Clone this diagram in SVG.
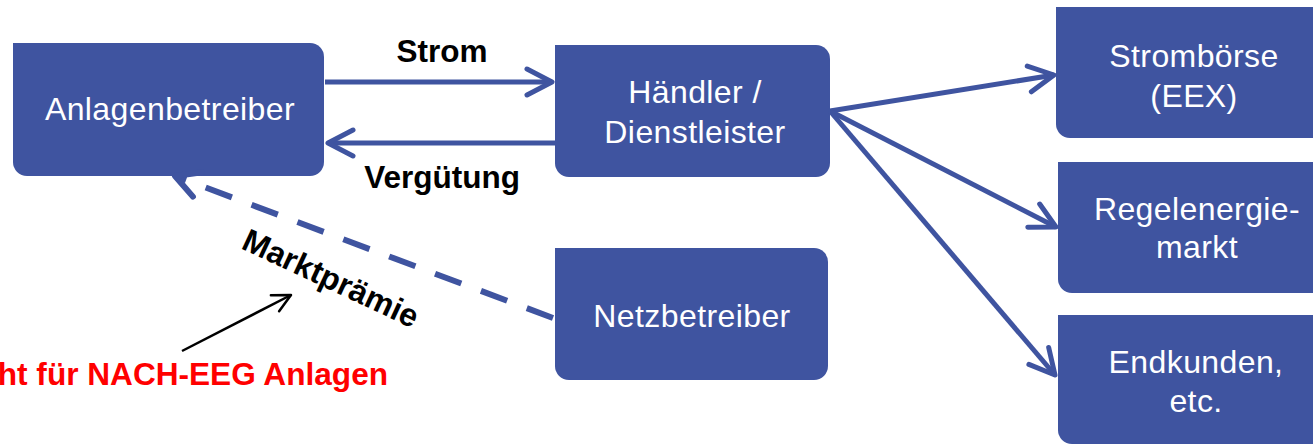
<svg xmlns="http://www.w3.org/2000/svg" width="1313" height="445" viewBox="0 0 1313 445">
<style>
.box{fill:#3F54A0}
.bt{fill:#ffffff;font-family:"Liberation Sans",Arial,sans-serif;font-size:32px;letter-spacing:0.4px;text-anchor:middle}
.lbl{fill:#000;font-family:"Liberation Sans",Arial,sans-serif;font-size:31.5px;font-weight:bold;text-anchor:middle}
.con{fill:none;stroke:#3F54A0;stroke-width:5}
.dash{fill:none;stroke:#3F54A0;stroke-width:6;stroke-dasharray:28 21}
</style>
<defs>
<marker id="ah" markerUnits="userSpaceOnUse" viewBox="-30 -18 34 36" refX="0" refY="0" markerWidth="34" markerHeight="36" orient="auto" overflow="visible">
<path d="M-25,-13 L0,0 L-25,13" fill="none" stroke="#3F54A0" stroke-width="5" stroke-linejoin="round" stroke-linecap="round"/>
</marker>
<marker id="ahd" markerUnits="userSpaceOnUse" viewBox="-30 -18 34 36" refX="0" refY="0" markerWidth="34" markerHeight="36" orient="auto" overflow="visible">
<path d="M-24,-13 L0,0 L-24,13" fill="none" stroke="#3F54A0" stroke-width="6" stroke-linejoin="round" stroke-linecap="round"/>
</marker>
<marker id="ahk" markerUnits="userSpaceOnUse" viewBox="-20 -12 24 24" refX="0" refY="0" markerWidth="24" markerHeight="24" orient="auto" overflow="visible">
<path d="M-18,-9 L0,0 L-18,9" fill="none" stroke="#000" stroke-width="2.5" stroke-linejoin="round" stroke-linecap="round"/>
</marker>
</defs>
<g id="anlagenbetreiber">
<path class="box" d="M13,43 H310 A14,14 0 0 1 324,57 V162 A14,14 0 0 1 310,176 H27 A14,14 0 0 1 13,162 Z"/>
<text class="bt" x="170" y="120">Anlagenbetreiber</text>
</g>
<g id="haendler">
<path class="box" d="M555,45 H816 A14,14 0 0 1 830,59 V163 A14,14 0 0 1 816,177 H569 A14,14 0 0 1 555,163 Z"/>
<text class="bt" x="695" y="103">Händler /</text>
<text class="bt" x="695" y="143">Dienstleister</text>
</g>
<g id="netzbetreiber">
<path class="box" d="M555,248 H814 A14,14 0 0 1 828,262 V366 A14,14 0 0 1 814,380 H569 A14,14 0 0 1 555,366 Z"/>
<text class="bt" x="692" y="327">Netzbetreiber</text>
</g>
<g id="stromboerse">
<path class="box" d="M1056,7 H1330 V138 H1070 A14,14 0 0 1 1056,124 Z"/>
<text class="bt" x="1194" y="67">Strombörse</text>
<text class="bt" x="1194" y="107">(EEX)</text>
</g>
<g id="regelenergiemarkt">
<path class="box" d="M1058,162 H1330 V293 H1072 A14,14 0 0 1 1058,279 Z"/>
<text class="bt" x="1197" y="220">Regelenergie-</text>
<text class="bt" x="1197" y="258">markt</text>
</g>
<g id="endkunden">
<path class="box" d="M1058,315 H1330 V444 H1072 A14,14 0 0 1 1058,430 Z"/>
<text class="bt" x="1196" y="373">Endkunden,</text>
<text class="bt" x="1196" y="412">etc.</text>
</g>
<g id="connectors">
<line class="con" x1="325" y1="82" x2="552" y2="82" marker-end="url(#ah)"/>
<line class="con" x1="555" y1="143" x2="328" y2="143" marker-end="url(#ah)"/>
<line class="con" x1="830" y1="111" x2="1054" y2="75" marker-end="url(#ah)"/>
<line class="con" x1="830" y1="111" x2="1056" y2="227" marker-end="url(#ah)"/>
<line class="con" x1="830" y1="111" x2="1055" y2="375" marker-end="url(#ah)"/>
<line class="dash" x1="553" y1="318" x2="175" y2="176" marker-end="url(#ahd)"/>
<line x1="182" y1="351" x2="291" y2="295" stroke="#000" stroke-width="2.5" marker-end="url(#ahk)"/>
</g>
<g id="labels">
<text class="lbl" x="442" y="62">Strom</text>
<text class="lbl" x="442" y="188">Vergütung</text>
<text class="lbl" x="0" y="0" transform="translate(240,248) rotate(25)" style="text-anchor:start;font-size:32px">Marktprämie</text>
<text x="388" y="385" fill="#FF0000" font-family="Liberation Sans, Arial, sans-serif" font-size="31.6" font-weight="bold" text-anchor="end">ht für NACH-EEG Anlagen</text>
</g>
</svg>
